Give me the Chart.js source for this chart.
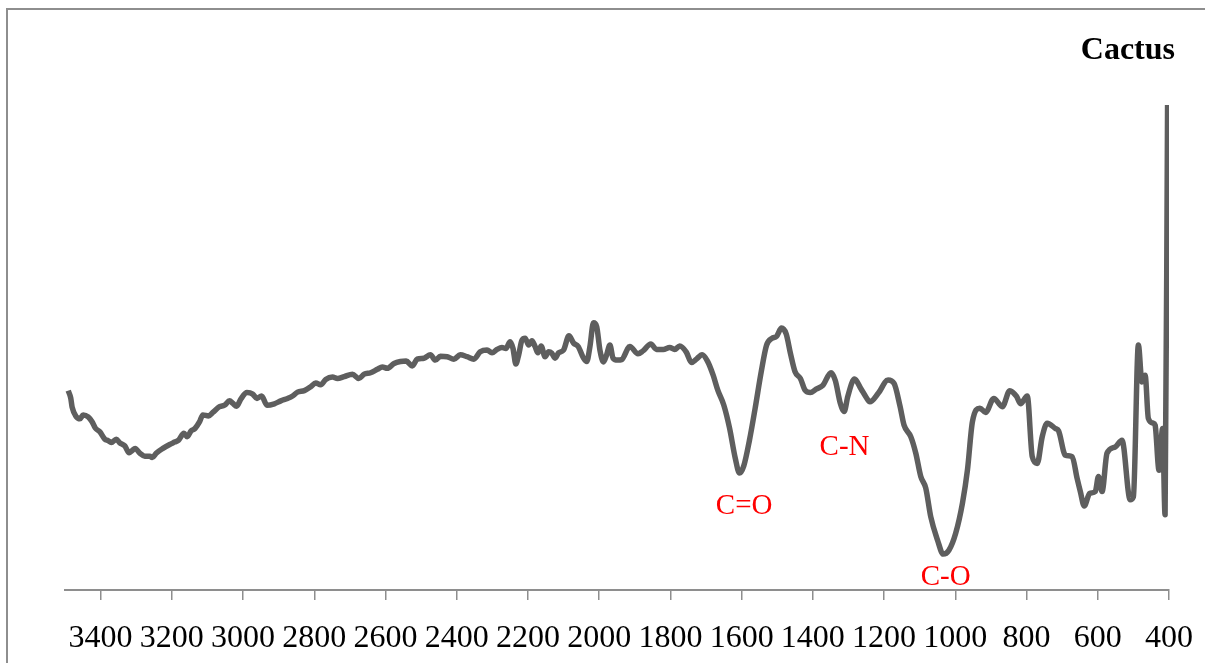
<!DOCTYPE html>
<html>
<head>
<meta charset="utf-8">
<script src="https://cdn.jsdelivr.net/npm/chart.js@4.4.1/dist/chart.umd.min.js"></script>
<style>
  html, body { margin: 0; padding: 0; background: #fff; overflow: hidden; }
  #wrap { position: relative; width: 1205px; height: 663px; }
  #frame {
    position: absolute; left: 6px; top: 8px; width: 1400px; height: 900px;
    border-left: 2px solid #8e8e8e; border-top: 2px solid #8e8e8e;
  }
  #chart { position: absolute; left: 0; top: 0; }
</style>
</head>
<body>
<div id="wrap">
  <div id="frame"></div>
  <canvas id="chart" width="1205" height="663"></canvas>
</div>
<script>
// FTIR spectrum of the cactus sample (wavenumber in cm-1, transmittance in %)
const wavenumber = [3491,3484,3480,3468,3458,3449,3435,3424,3415,3402,
  3388,3379,3370,3356,3347,3332,3320,3312,3303,3290,
  3276,3262,3255,3244,3225,3206,3192,3181,3166,3157,
  3146,3135,3122,3113,3097,3085,3066,3052,3038,3029,
  3018,3006,2989,2973,2961,2948,2933,2912,2894,2875,
  2861,2847,2828,2810,2796,2782,2768,2749,2735,2716,
  2693,2675,2660,2642,2623,2609,2595,2576,2558,2542,
  2525,2511,2492,2474,2460,2446,2427,2408,2390,2371,
  2352,2334,2315,2301,2287,2273,2262,2250,2242,2234,
  2226,2217,2208,2198,2189,2180,2172,2163,2152,2142,
  2133,2124,2114,2100,2085,2072,2059,2044,2035,2026,
  2016,2007,1998,1988,1979,1970,1961,1948,1937,1914,
  1891,1877,1855,1839,1820,1802,1788,1774,1755,1741,
  1727,1711,1696,1680,1667,1650,1634,1618,1606,1594,
  1578,1562,1545,1530,1515,1502,1488,1475,1463,1450,
  1435,1422,1407,1391,1372,1349,1337,1323,1312,1302,
  1283,1265,1251,1240,1216,1189,1172,1155,1144,1125,
  1111,1097,1083,1069,1050,1034,1018,999,980,966,
  952,931,915,892,868,847,828,817,798,784,
  770,756,742,719,710,691,672,658,649,638,
  623,607,598,588,574,551,532,509,500,486,
  476,467,458,444,439,428,418,411,404];

const transmittance = [41.1,39.6,37.7,35.7,35.3,36.1,35.7,34.7,33.4,32.6,
  31.1,30.8,30.4,31.1,30.4,29.7,28.3,28.7,29.2,28.2,
  27.6,27.6,27.3,28.2,29.2,30.0,30.5,30.9,32.3,31.6,
  32.8,33.3,34.7,36.1,35.9,36.6,37.8,38.1,39.0,38.5,
  37.9,39.4,40.7,40.4,39.5,40.0,38.1,38.4,39.0,39.5,
  40.0,40.8,41.1,41.9,42.7,42.3,43.4,43.9,43.6,44.0,
  44.5,43.6,44.5,44.8,45.5,46.0,45.7,46.7,47.1,47.2,
  46.2,47.6,47.8,48.5,47.4,48.2,48.1,47.6,48.5,48.1,
  47.6,49.1,49.5,48.9,49.6,50.0,49.8,51.2,49.8,46.6,
  48.5,51.5,51.9,50.5,51.4,50.2,48.9,50.3,48.1,49.1,
  48.8,47.8,48.9,49.5,52.4,50.9,50.2,47.8,47.1,50.2,
  55.1,54.3,49.5,47.0,48.5,50.5,47.8,47.4,47.5,50.2,
  48.7,49.3,50.7,49.6,49.6,50.0,49.6,50.3,49.0,46.9,
  47.6,48.5,47.2,44.3,41.2,38.1,33.4,27.2,24.1,25.6,
  30.9,37.5,45.0,50.5,51.9,52.3,54.0,52.8,48.8,45.0,
  43.6,41.2,40.7,41.4,42.2,44.8,43.2,38.5,36.8,39.9,
  43.5,41.5,39.8,38.8,40.6,43.3,42.6,37.8,34.0,31.6,
  28.2,23.4,21.0,15.1,10.3,7.4,8.2,11.7,17.9,24.7,
  34.7,37.5,36.6,39.5,37.8,41.1,39.9,38.4,40.0,27.5,
  26.1,31.6,34.4,33.3,32.8,27.8,27.5,23.0,20.3,17.3,
  19.9,20.3,23.4,20.3,28.2,29.5,30.9,18.6,19.2,50.5,
  42.9,44.3,35.4,34.4,34.0,24.7,33.3,15.5,100];

// band assignments written next to the peaks
const bandNames = ['C=O', 'C-N', 'C-O'];
const bandX = [1593, 1311, 1027];
const bandY = [17.3, 29.5, 2.7];

const tickValues = [3400, 3200, 3000, 2800, 2600, 2400, 2200, 2000, 1800,
  1600, 1400, 1200, 1000, 800, 600, 400];
const xMin = 400;
const xMax = 3500;

const serif = "'Liberation Serif', 'Times New Roman', serif";

const labelsPlugin = {
  id: 'bandLabels',
  afterDatasetsDraw(chart) {
    const { ctx, scales } = chart;
    ctx.save();
    ctx.fillStyle = '#ff0000';
    ctx.font = '29px ' + serif;
    ctx.textAlign = 'center';
    ctx.textBaseline = 'middle';
    bandNames.forEach((name, i) => {
      ctx.fillText(name, scales.x.getPixelForValue(bandX[i]), scales.y.getPixelForValue(bandY[i]));
    });
    // sample name, top right
    ctx.fillStyle = '#000';
    ctx.font = 'bold 32px ' + serif;
    ctx.textAlign = 'right';
    ctx.textBaseline = 'alphabetic';
    ctx.fillText('Cactus', 1175, 59);
    ctx.restore();
  }
};

new Chart(document.getElementById('chart'), {
  type: 'line',
  data: {
    datasets: [{
      data: wavenumber.map((w, i) => ({ x: w, y: transmittance[i] })),
      borderColor: '#5e5e5e',
      borderWidth: 5.5,
      pointRadius: 0,
      fill: false,
      cubicInterpolationMode: 'monotone',
      borderJoinStyle: 'round'
    }]
  },
  options: {
    responsive: false,
    animation: false,
    events: [],
    layout: { padding: { left: 65, right: 36, top: 105, bottom: 0 } },
    plugins: {
      legend: { display: false },
      tooltip: { enabled: false }
    },
    scales: {
      x: {
        type: 'linear',
        reverse: true,
        min: xMin,
        max: xMax,
        afterBuildTicks(scale) {
          scale.ticks = tickValues.map(v => ({ value: v }));
        },
        afterFit(scale) {
          scale.height = 73;
          scale.paddingLeft = 0;
          scale.paddingRight = 0;
        },
        ticks: {
          callback: v => String(v),
          color: '#000',
          font: { family: serif, size: 32 },
          padding: 19,
          maxRotation: 0,
          autoSkip: false
        },
        grid: {
          drawOnChartArea: false,
          drawTicks: true,
          tickLength: 10,
          color: '#8e8e8e',
          lineWidth: 1.5
        },
        border: { display: true, color: '#8e8e8e', width: 2 }
      },
      y: {
        display: false,
        min: 0,
        max: 100
      }
    }
  },
  plugins: [labelsPlugin]
});
</script>
</body>
</html>
